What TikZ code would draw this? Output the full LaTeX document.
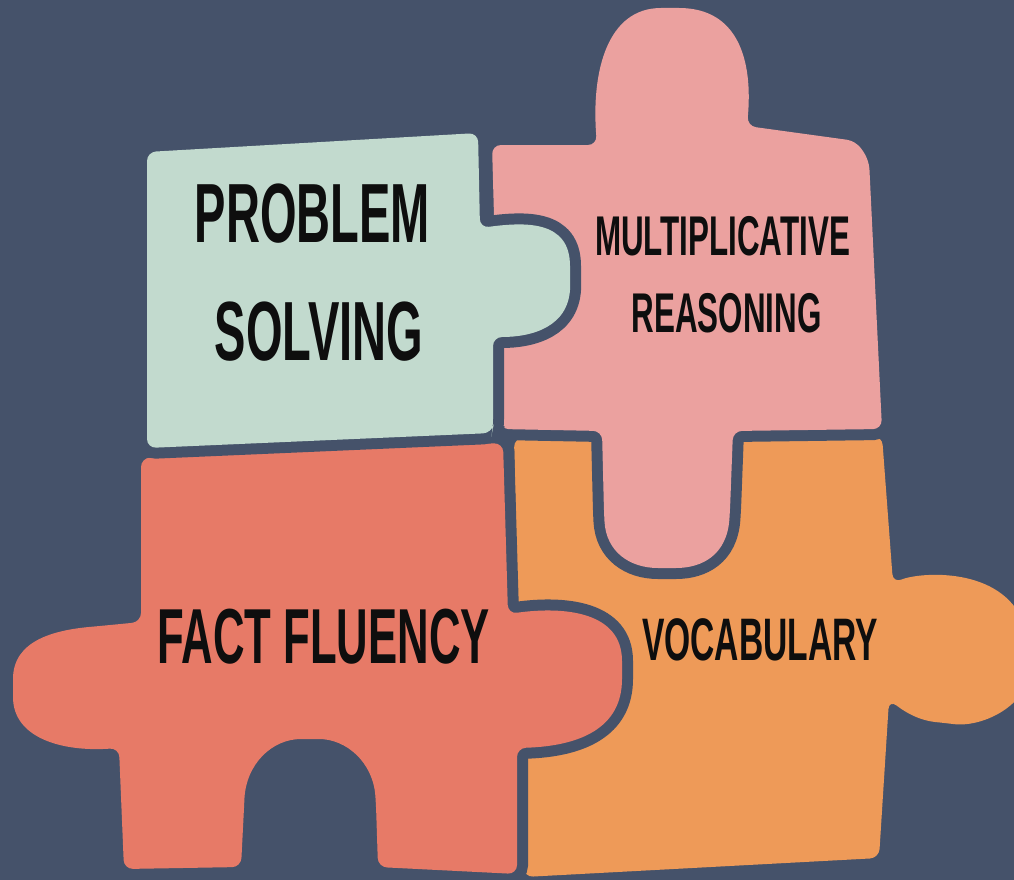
\documentclass[tikz,border=0pt]{standalone}
\usepackage{fontspec}
\newfontfamily\piecefont{Liberation Sans}[FakeStretch=0.56]
\definecolor{slate}{HTML}{45526A}
\definecolor{mint}{HTML}{C2DACE}
\definecolor{rose}{HTML}{EBA19F}
\definecolor{coral}{HTML}{E77A67}
\definecolor{apricot}{HTML}{EE9A58}
\definecolor{ink}{HTML}{0E0E0E}
\tikzset{
  % the seam is drawn outside the fill only, so it cuts into pieces drawn earlier
  piece/.style={rounded corners=9pt, line join=round,
    preaction={draw=slate, line width=22pt}},
  label/.style={inner sep=0pt, anchor=base, text=ink, font=\piecefont\bfseries}
}
\begin{document}
\begin{tikzpicture}[x=1pt, y=-1pt]
  \useasboundingbox (0,0) rectangle (1014,880);
  \fill[slate] (0,0) rectangle (1014,880);
  \clip (0,0) rectangle (1014,880);

  % orange piece (bottom right) with knob to the right
  \path[piece, fill=apricot]
    (514,438) -- (882,436) -- (893,583)
    .. controls (920,572) and (1002,566) .. (1027,632)
    .. controls (1046,700) and (985,728) .. (945,723)
    .. controls (915,720) and (900,708) .. (889,700)
    -- (879,858) -- (524,877) -- cycle;

  % coral piece (bottom left) with side knobs and an arch
  \path[piece, fill=coral]
    (141,458) -- (503,443) -- (508,614)
    .. controls (565,606) and (622,612) .. (622,670)
    .. controls (622,728) and (580,746) .. (517,748)
    -- (517,874) -- (378,867)
    -- (376,805) .. controls (373,762) and (346,739) .. (310,739)
    .. controls (272,739) and (246,764) .. (244,808)
    -- (241,867) -- (124,869) -- (119,748)
    .. controls (62,752) and (13,738) .. (13,688)
    .. controls (13,640) and (55,630) .. (100,626)
    -- (141,622) -- cycle;

  % rose piece (top right) with top knob and bottom tab
  \path[piece, fill=rose]
    (492,145) -- (597,145)
    .. controls (591,70) and (608,8) .. (670,8)
    .. controls (738,8) and (753,60) .. (747,126)
    -- (856,141) -- (869,160) -- (882,429) -- (733,431)
    -- (730,510) .. controls (727,555) and (702,568) .. (667,568)
    .. controls (630,568) and (606,552) .. (604,512)
    -- (602,431) -- (500,429) -- cycle;

  % mint piece (top left) with knob into the rose piece
  \path[piece, fill=mint]
    (147,152) -- (478,133) -- (480,228)
    .. controls (525,222) and (570,220) .. (570,275)
    .. controls (571,328) and (530,337) .. (493,337)
    -- (493,428) -- (492,433) -- (147,448) -- cycle;

  \node[label, font=\piecefont\bfseries\fontsize{84}{100}\selectfont] (ps1) at (312.5,242) {PROBLEM};
  \node[label, font=\piecefont\bfseries\fontsize{84}{100}\selectfont] (ps2) at (319,360) {SOLVING};
  \node[label, font=\piecefont\bfseries\fontsize{56}{70}\selectfont] (mr1) at (722.5,255) {MULTIPLICATIVE};
  \node[label, font=\piecefont\bfseries\fontsize{56}{70}\selectfont] (mr2) at (726.5,332) {REASONING};
  \node[label, font=\piecefont\bfseries\fontsize{78}{90}\selectfont] (ff) at (323.5,663) {FACT FLUENCY};
  \node[label, font=\piecefont\bfseries\fontsize{60}{72}\selectfont] (voc) at (760,660) {VOCABULARY};
\end{tikzpicture}
\end{document}
